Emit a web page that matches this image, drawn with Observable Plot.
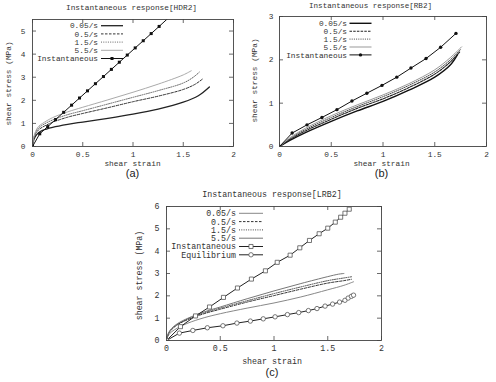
<!DOCTYPE html>
<html><head><meta charset="utf-8">
<script src="https://cdn.jsdelivr.net/npm/d3@7"></script>
<script src="https://cdn.jsdelivr.net/npm/@observablehq/plot@0.6"></script>
<style>
body{margin:0;background:#fff;}
#root{position:relative;width:496px;height:382px;overflow:hidden;background:#fff;}
.panel{position:absolute;}
</style></head><body><div id="root"></div>
<script>
const FONT = "'Liberation Mono','DejaVu Sans Mono',monospace";
const SANS = "'Liberation Sans',Arial,sans-serif";

// ---- shared labels ----
const rates = ["0.05/s", "0.5/s", "1.5/s", "5.5/s"];
const instLabel = "Instantaneous";
const eqLabel = "Equilibrium";
const xTicks = [0, 0.5, 1, 1.5, 2];
const yTicksA = [0, 1, 2, 3, 4, 5];
const yTicksB = [0, 1, 2, 3];
const yTicksC = [0, 1, 2, 3, 4, 5, 6];
const titles = ["Instantaneous response[HDR2]", "Instantaneous response[RB2]", "Instantaneous response[LRB2]"];
const panelTags = ["(a)", "(b)", "(c)"];
const xLabel = "shear strain";
const yLabel = "shear stress (MPa)";

// ---- (a) HDR2 ----
const a005x = [0, 0.01, 0.03, 0.06, 0.1, 0.2, 0.35, 0.5, 0.75, 1.0, 1.25, 1.5, 1.65, 1.76];
const a005y = [0, 0.25, 0.45, 0.6, 0.7, 0.83, 0.96, 1.06, 1.22, 1.4, 1.62, 1.92, 2.2, 2.58];
const a05x  = [0, 0.01, 0.03, 0.06, 0.1, 0.2, 0.35, 0.5, 0.75, 1.0, 1.25, 1.5, 1.62, 1.7];
const a05y  = [0, 0.3, 0.55, 0.72, 0.84, 1.05, 1.27, 1.43, 1.68, 1.94, 2.18, 2.47, 2.7, 2.95];
const a15x  = [0, 0.01, 0.03, 0.06, 0.1, 0.2, 0.35, 0.5, 0.75, 1.0, 1.25, 1.5, 1.6, 1.66];
const a15y  = [0, 0.32, 0.6, 0.8, 0.93, 1.15, 1.38, 1.55, 1.84, 2.13, 2.42, 2.75, 3.0, 3.22];
const a55x  = [0, 0.01, 0.03, 0.06, 0.1, 0.2, 0.35, 0.5, 0.75, 1.0, 1.25, 1.5, 1.58];
const a55y  = [0, 0.35, 0.65, 0.87, 1.0, 1.25, 1.5, 1.7, 2.02, 2.35, 2.7, 3.1, 3.28];
const aInstX = [0, 0.072, 0.151, 0.23, 0.31, 0.389, 0.468, 0.547, 0.626, 0.706, 0.785, 0.864, 0.943, 1.022, 1.102, 1.181, 1.26, 1.36];
const aInstY = [0, 0.55, 0.86, 1.17, 1.48, 1.79, 2.1, 2.41, 2.72, 3.03, 3.34, 3.65, 3.96, 4.27, 4.58, 4.89, 5.2, 5.6];

// ---- (b) RB2 ----
const b005x = [0, 0.1, 0.25, 0.5, 0.75, 1.0, 1.25, 1.5, 1.65, 1.72];
const b005y = [0, 0.14, 0.32, 0.58, 0.82, 1.04, 1.3, 1.6, 1.88, 2.12];
const b05x  = [0, 0.1, 0.25, 0.5, 0.75, 1.0, 1.25, 1.5, 1.65, 1.74];
const b05y  = [0, 0.16, 0.36, 0.63, 0.88, 1.1, 1.36, 1.67, 1.95, 2.18];
const b15x  = [0, 0.1, 0.25, 0.5, 0.75, 1.0, 1.25, 1.5, 1.65, 1.75];
const b15y  = [0, 0.18, 0.39, 0.67, 0.92, 1.15, 1.41, 1.72, 2.0, 2.24];
const b55x  = [0, 0.1, 0.25, 0.5, 0.75, 1.0, 1.25, 1.5, 1.65, 1.76];
const b55y  = [0, 0.2, 0.42, 0.71, 0.96, 1.19, 1.45, 1.77, 2.05, 2.3];
const bInstX = [0, 0.122, 0.266, 0.41, 0.555, 0.70, 0.844, 0.99, 1.133, 1.27, 1.416, 1.557, 1.705];
const bInstY = [0, 0.31, 0.5, 0.67, 0.85, 1.05, 1.23, 1.41, 1.6, 1.81, 2.03, 2.29, 2.61];

// ---- (c) LRB2 ----
const c005x = [0, 0.02, 0.05, 0.1, 0.2, 0.35, 0.5, 0.75, 1.0, 1.25, 1.5, 1.65, 1.74];
const c005y = [0, 0.25, 0.4, 0.55, 0.78, 1.02, 1.2, 1.45, 1.68, 1.95, 2.27, 2.47, 2.63];
const c05x  = [0, 0.02, 0.05, 0.1, 0.2, 0.35, 0.5, 0.75, 1.0, 1.25, 1.5, 1.65, 1.72];
const c05y  = [0, 0.32, 0.5, 0.7, 0.94, 1.2, 1.4, 1.72, 2.01, 2.3, 2.57, 2.68, 2.74];
const c15x  = [0, 0.02, 0.05, 0.1, 0.2, 0.35, 0.5, 0.75, 1.0, 1.25, 1.5, 1.65, 1.73];
const c15y  = [0, 0.34, 0.53, 0.72, 0.97, 1.24, 1.45, 1.78, 2.1, 2.4, 2.68, 2.8, 2.86];
const c55x  = [0, 0.02, 0.05, 0.1, 0.2, 0.35, 0.5, 0.75, 1.0, 1.25, 1.5, 1.6, 1.65];
const c55y  = [0, 0.35, 0.55, 0.75, 1.0, 1.28, 1.5, 1.87, 2.22, 2.55, 2.86, 2.97, 3.0];
const cInstX = [0, 0.13, 0.27, 0.4, 0.53, 0.66, 0.79, 0.92, 1.03, 1.15, 1.24, 1.33, 1.42, 1.5, 1.57, 1.62, 1.66, 1.7];
const cInstY = [0, 0.62, 1.1, 1.5, 1.93, 2.35, 2.75, 3.12, 3.5, 3.82, 4.15, 4.48, 4.78, 5.03, 5.3, 5.52, 5.7, 5.88];
const cEqX = [0, 0.12, 0.245, 0.38, 0.525, 0.655, 0.78, 0.9, 1.01, 1.125, 1.23, 1.32, 1.4, 1.475, 1.545, 1.61, 1.66, 1.69, 1.72, 1.74];
const cEqY = [0, 0.33, 0.45, 0.57, 0.66, 0.78, 0.87, 0.97, 1.06, 1.16, 1.25, 1.34, 1.43, 1.54, 1.63, 1.72, 1.8, 1.9, 1.98, 2.03];

const rows = (xs, ys) => xs.map((x, i) => ({x, y: ys[i]}));

function panel(p) {
  const fw = p.width - p.mL - p.mR, fh = p.height - p.mT - p.mB;
  const tk = {stroke: "#444", strokeWidth: 0.8};
  const txt = {fontFamily: FONT, fontSize: p.fs, fill: "#333"};
  const marks = [
    Plot.ruleX(xTicks, {...tk, insetTop: fh - 4}),
    Plot.ruleX(xTicks, {...tk, insetBottom: fh - 4}),
    Plot.ruleY(p.yTicks, {...tk, insetRight: fw - 4}),
    Plot.ruleY(p.yTicks, {...tk, insetLeft: fw - 4}),
    Plot.axisX(xTicks, {tickSize: 0, tickPadding: p.xPad, ...txt, label: null, tickFormat: d => String(d)}),
    Plot.axisY(p.yTicks, {tickSize: 0, tickPadding: p.yPad, ...txt, label: null, tickFormat: d => String(d)}),
  ];
  for (const s of p.series) {
    marks.push(Plot.line(s.rows, {x: "x", y: "y", stroke: s.stroke, strokeWidth: s.sw, strokeDasharray: s.dash, curve: s.curve || "linear", clip: true}));
    if (s.symbol) marks.push(Plot.dot(s.rows, {x: "x", y: "y", symbol: s.symbol, r: s.r, fill: s.fill, stroke: s.mstroke, strokeWidth: 0.8, clip: true}));
  }
  const lbl = {text: d => d, textAnchor: "middle", lineAnchor: "middle"};
  marks.push(
    Plot.frame({stroke: "#444", strokeWidth: 0.9}),
    Plot.text([p.title], {...lbl, frameAnchor: "top", dx: p.titleDx, dy: p.titleDy, fontFamily: FONT, fontSize: p.titleFs, fill: "#333"}),
    Plot.text([xLabel], {...lbl, frameAnchor: "bottom", dx: p.xlDx, dy: p.xlDy, ...txt}),
    Plot.text([p.tag], {...lbl, frameAnchor: "bottom", dx: p.xlDx, dy: p.tagDy, fontFamily: SANS, fontSize: 11, fill: "#222"}),
    Plot.text([yLabel], {...lbl, frameAnchor: "left", dx: p.ylDx, dy: p.ylDy, rotate: -90, ...txt})
  );
  const svg = Plot.plot({
    width: p.width, height: p.height,
    marginLeft: p.mL, marginRight: p.mR, marginTop: p.mT, marginBottom: p.mB,
    x: {domain: [0, 2]}, y: {domain: p.yDomain},
    style: {fontFamily: FONT, background: "#fff", overflow: "visible"},
    marks
  });
  // legend (gnuplot-style key)
  const g = d3.select(svg).append("g").attr("font-family", FONT).attr("font-size", p.fs).attr("fill", "#333");
  p.series.forEach((s, i) => {
    const y = p.leg.y0 + i * p.leg.dy;
    g.append("text").attr("x", p.leg.tx).attr("y", y).attr("text-anchor", "end").attr("dy", "0.35em").text(s.label);
    g.append("line").attr("x1", p.leg.lx1).attr("x2", p.leg.lx2).attr("y1", y).attr("y2", y)
      .attr("stroke", s.stroke).attr("stroke-width", s.sw).attr("stroke-dasharray", s.dash || null);
    if (s.symbol) {
      const sym = s.symbol === "square" ? d3.symbolSquare : d3.symbolCircle;
      g.append("path").attr("d", d3.symbol(sym, Math.PI * s.r * s.r)())
        .attr("transform", `translate(${(p.leg.lx1 + p.leg.lx2) / 2},${y})`)
        .attr("fill", s.fill).attr("stroke", s.mstroke).attr("stroke-width", 0.8);
    }
  });
  const div = document.createElement("div");
  div.className = "panel";
  div.style.left = p.left + "px"; div.style.top = p.top + "px";
  div.appendChild(svg);
  document.getElementById("root").appendChild(div);
}

panel({
  left: 0, top: 0, width: 248, height: 180, mL: 32, mR: 15, mT: 19, mB: 34,
  yDomain: [0, 5.5], yTicks: yTicksA, fs: 7.8, titleFs: 7.8, xPad: 5, yPad: 7,
  title: titles[0], tag: panelTags[0], titleDx: -1.5, titleDy: -12, xlDx: -0.5, xlDy: 17, tagDy: 26.5, ylDx: -24, ylDy: 0.5,
  leg: {tx: 98, lx1: 101, lx2: 123, y0: 25.7, dy: 8.2},
  series: [
    {label: rates[0], rows: rows(a005x, a005y), stroke: "#222", sw: 1.3, curve: "catmull-rom"},
    {label: rates[1], rows: rows(a05x, a05y), stroke: "#333", sw: 1, dash: "2.5,1.5", curve: "catmull-rom"},
    {label: rates[2], rows: rows(a15x, a15y), stroke: "#666", sw: 1, dash: "1,1.3", curve: "catmull-rom"},
    {label: rates[3], rows: rows(a55x, a55y), stroke: "#aaa", sw: 1, curve: "catmull-rom"},
    {label: instLabel, rows: rows(aInstX, aInstY), stroke: "#111", sw: 1, symbol: "square", r: 1.7, fill: "#111", mstroke: "none"}
  ]
});

panel({
  left: 248, top: 0, width: 248, height: 180, mL: 31, mR: 10, mT: 16, mB: 34,
  yDomain: [0, 3], yTicks: yTicksB, fs: 7.8, titleFs: 7.6, xPad: 5, yPad: 6,
  title: titles[1], tag: panelTags[1], titleDx: -12.5, titleDy: -11, xlDx: -1.5, xlDy: 17, tagDy: 26.5, ylDx: -25, ylDy: -1,
  leg: {tx: 99, lx1: 101.5, lx2: 123.5, y0: 23.3, dy: 7.9},
  series: [
    {label: rates[0], rows: rows(b005x, b005y), stroke: "#111", sw: 1.4, curve: "catmull-rom"},
    {label: rates[1], rows: rows(b05x, b05y), stroke: "#222", sw: 1.1, dash: "2.5,1.2", curve: "catmull-rom"},
    {label: rates[2], rows: rows(b15x, b15y), stroke: "#444", sw: 1, dash: "1,1.2", curve: "catmull-rom"},
    {label: rates[3], rows: rows(b55x, b55y), stroke: "#999", sw: 1, curve: "catmull-rom"},
    {label: instLabel, rows: rows(bInstX, bInstY), stroke: "#111", sw: 1, symbol: "circle", r: 1.7, fill: "#111", mstroke: "none"}
  ]
});

panel({
  left: 130, top: 180, width: 260, height: 202, mL: 36, mR: 9, mT: 26, mB: 42,
  yDomain: [0, 6], yTicks: yTicksC, fs: 8.3, titleFs: 8.3, xPad: 5, yPad: 7,
  title: titles[2], tag: panelTags[2], titleDx: -2, titleDy: -12, xlDx: -2, xlDy: 21, tagDy: 32, ylDx: -26.7, ylDy: 2,
  leg: {tx: 106, lx1: 109, lx2: 133, y0: 33.3, dy: 8.3},
  series: [
    {label: rates[0], rows: rows(c005x, c005y), stroke: "#888", sw: 1, curve: "catmull-rom"},
    {label: rates[1], rows: rows(c05x, c05y), stroke: "#333", sw: 1, dash: "2.5,1.5", curve: "catmull-rom"},
    {label: rates[2], rows: rows(c15x, c15y), stroke: "#444", sw: 1, dash: "1,1.3", curve: "catmull-rom"},
    {label: rates[3], rows: rows(c55x, c55y), stroke: "#777", sw: 1, curve: "catmull-rom"},
    {label: instLabel, rows: rows(cInstX, cInstY), stroke: "#222", sw: 1, symbol: "square", r: 2.3, fill: "#fff", mstroke: "#555"},
    {label: eqLabel, rows: rows(cEqX, cEqY), stroke: "#222", sw: 1, symbol: "circle", r: 2.2, fill: "#fff", mstroke: "#555"}
  ]
});
</script></body></html>
